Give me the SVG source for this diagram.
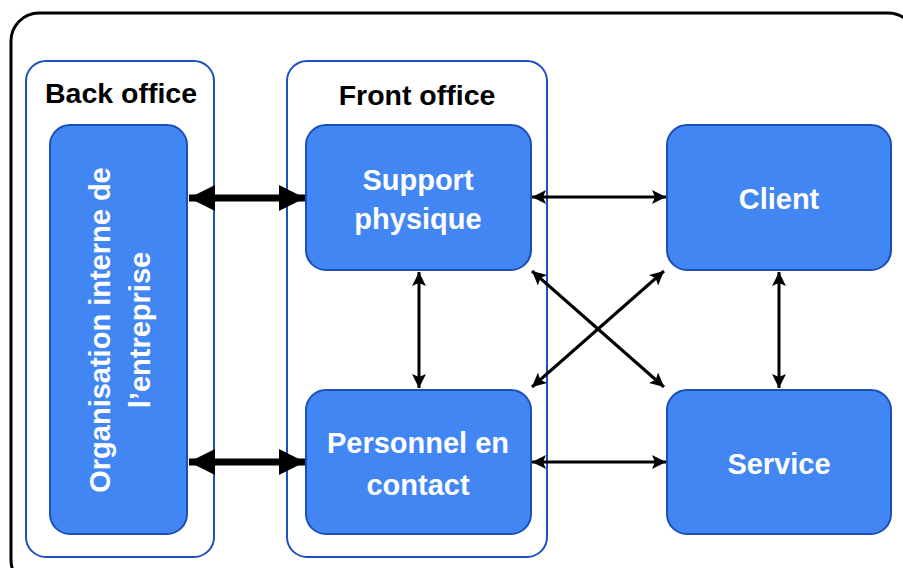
<svg xmlns="http://www.w3.org/2000/svg" width="903" height="568" viewBox="0 0 903 568">
<defs>
<style>
.panel{fill:#fff;stroke:#1a50c4;stroke-width:2}
.node{fill:#4286f4;stroke:#1a4fb8;stroke-width:2}
.title{font-family:"Liberation Sans",Arial,sans-serif;font-weight:bold;font-size:28.5px;fill:#000;text-anchor:middle}
.lbl{font-family:"Liberation Sans",Arial,sans-serif;font-weight:bold;font-size:29px;fill:#fff;text-anchor:middle}
.thin{stroke:#000;stroke-width:3;fill:none;marker-start:url(#hs);marker-end:url(#he)}
.thick{stroke:#000;stroke-width:7;fill:none;marker-start:url(#Hs);marker-end:url(#He)}
</style>
<marker id="he" markerUnits="userSpaceOnUse" markerWidth="16" markerHeight="14" refX="14" refY="7" orient="auto"><path d="M0,0 L14,7 L0,14 L3,7 Z" fill="#000"/></marker>
<marker id="hs" markerUnits="userSpaceOnUse" markerWidth="16" markerHeight="14" refX="0" refY="7" orient="auto"><path d="M14,0 L0,7 L14,14 L11,7 Z" fill="#000"/></marker>
<marker id="He" markerUnits="userSpaceOnUse" markerWidth="28" markerHeight="26" refX="26" refY="13" orient="auto"><path d="M0,0 L26,13 L0,26 Z" fill="#000"/></marker>
<marker id="Hs" markerUnits="userSpaceOnUse" markerWidth="28" markerHeight="26" refX="0" refY="13" orient="auto"><path d="M26,0 L0,13 L26,26 Z" fill="#000"/></marker>
</defs>
<rect x="0" y="0" width="903" height="568" fill="#fff"/>
<rect x="11" y="13" width="905" height="575" rx="28" fill="none" stroke="#000" stroke-width="3"/>
<g id="back-office">
<rect class="panel" x="26" y="61" width="188" height="496" rx="20"/>
<text class="title" x="121" y="103">Back office</text>
</g>
<g id="front-office">
<rect class="panel" x="287" y="61" width="260" height="496" rx="20"/>
<text class="title" x="417" y="105">Front office</text>
</g>
<g id="organisation">
<rect class="node" x="50" y="125" width="137" height="409" rx="20"/>
<text class="lbl" transform="translate(118,330) rotate(-90)" font-size="31"><tspan x="0" y="-8">Organisation interne de</tspan><tspan x="0" y="32">l’entreprise</tspan></text>
</g>
<g id="support">
<rect class="node" x="306" y="125" width="225" height="145" rx="20"/>
<text class="lbl" x="418" y="190">Support</text>
<text class="lbl" x="418" y="229">physique</text>
</g>
<g id="personnel">
<rect class="node" x="306" y="390" width="225" height="144" rx="20"/>
<text class="lbl" x="418" y="453">Personnel en</text>
<text class="lbl" x="418" y="495">contact</text>
</g>
<g id="client">
<rect class="node" x="667" y="125" width="224" height="145" rx="20"/>
<text class="lbl" x="779" y="209">Client</text>
</g>
<g id="service">
<rect class="node" x="667" y="390" width="224" height="144" rx="20"/>
<text class="lbl" x="779" y="474">Service</text>
</g>
<g id="connectors">
<line class="thick" x1="189" y1="198" x2="305" y2="198"/>
<line class="thick" x1="189" y1="462" x2="305" y2="462"/>
<line class="thin" x1="532" y1="197" x2="666" y2="197"/>
<line class="thin" x1="532" y1="462" x2="666" y2="462"/>
<line class="thin" x1="419" y1="272" x2="419" y2="388"/>
<line class="thin" x1="779" y1="272" x2="779" y2="388"/>
<line class="thin" x1="532" y1="271" x2="664" y2="387"/>
<line class="thin" x1="532" y1="387" x2="664" y2="271"/>
</g>
</svg>
